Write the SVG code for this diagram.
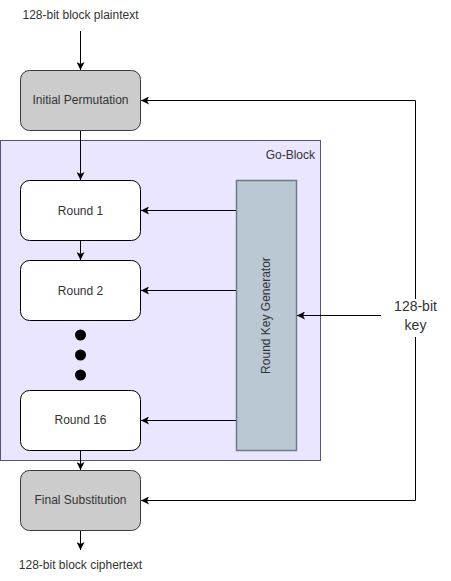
<svg xmlns="http://www.w3.org/2000/svg" width="451" height="581" viewBox="0 0 451 581">
<defs>
<marker id="arr" markerWidth="10" markerHeight="8" refX="8" refY="4" orient="auto" markerUnits="userSpaceOnUse">
<path d="M0,0 L8,4 L0,8 L2,4 z" fill="#000"/>
</marker>
<style>
text{font-family:"Liberation Sans",Arial,Helvetica,sans-serif;font-size:12px;fill:#333;text-anchor:middle}
.gray{fill:#cccccc;stroke:#36393d;stroke-width:1}
.white{fill:#ffffff;stroke:#000;stroke-width:1}
.conn line,.conn polyline{stroke:#000;stroke-width:1;fill:none;marker-end:url(#arr)}
</style>
</defs>
<rect width="451" height="581" fill="#fff"/>
<g id="go-block">
<rect x="0.5" y="140.5" width="320" height="320" fill="#ebe6ff" stroke="#56517e"/>
<text x="315" y="159" style="text-anchor:end">Go-Block</text>
</g>
<g id="initial-permutation">
<rect class="gray" x="20.5" y="70.5" width="120" height="60" rx="9"/>
<text x="80.5" y="104">Initial Permutation</text>
</g>
<g id="round1">
<rect class="white" x="20.5" y="180.5" width="120" height="60" rx="9"/>
<text x="80.5" y="215">Round 1</text>
</g>
<g id="round2">
<rect class="white" x="20.5" y="260.5" width="120" height="60" rx="9"/>
<text x="80.5" y="295">Round 2</text>
</g>
<g id="dots">
<circle cx="80.5" cy="335" r="5.5" fill="#000"/>
<circle cx="80.5" cy="355" r="5.5" fill="#000"/>
<circle cx="80.5" cy="375" r="5.5" fill="#000"/>
</g>
<g id="round16">
<rect class="white" x="20.5" y="390.5" width="120" height="60" rx="9"/>
<text x="80.5" y="424">Round 16</text>
</g>
<g id="final-substitution">
<rect class="gray" x="20.5" y="470.5" width="120" height="60" rx="9"/>
<text x="80.5" y="504">Final Substitution</text>
</g>
<g id="round-key-generator">
<rect x="236.5" y="180.5" width="60" height="270" fill="#bac8d3" stroke="#6c7a89" stroke-width="1.5"/>
<text transform="translate(270,315.5) rotate(-90)">Round Key Generator</text>
</g>
<g id="plaintext"><text x="80.5" y="19">128-bit block plaintext</text></g>
<g id="ciphertext"><text x="80.5" y="569">128-bit block ciphertext</text></g>
<g id="connectors" class="conn">
<line x1="80.5" y1="31" x2="80.5" y2="70"/>
<line x1="80.5" y1="131" x2="80.5" y2="180"/>
<line x1="80.5" y1="241" x2="80.5" y2="260"/>
<line x1="80.5" y1="451" x2="80.5" y2="470"/>
<line x1="80.5" y1="531" x2="80.5" y2="550"/>
<line x1="236" y1="210.5" x2="141" y2="210.5"/>
<line x1="236" y1="290.5" x2="141" y2="290.5"/>
<line x1="236" y1="420.5" x2="141" y2="420.5"/>
<line x1="381" y1="315.5" x2="297" y2="315.5"/>
<polyline points="415.5,315.5 415.5,100.5 141,100.5"/>
<polyline points="415.5,315.5 415.5,500.5 141,500.5"/>
</g>
<g id="key">
<rect x="394" y="299" width="43" height="38" fill="#fff"/>
<text x="415.5" y="311" style="font-size:14px">128-bit</text>
<text x="415.5" y="330" style="font-size:14px">key</text>
</g>
</svg>
